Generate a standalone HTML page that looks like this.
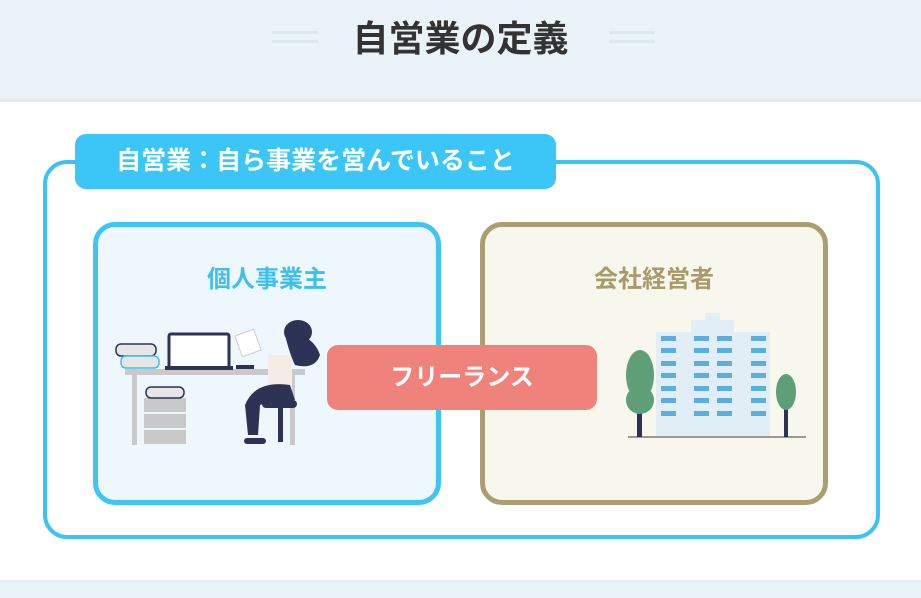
<!DOCTYPE html>
<html><head><meta charset="utf-8"><style>
body{margin:0;width:921px;height:596px;overflow:hidden;background:#fff;font-family:"Liberation Sans","Noto Sans CJK JP",sans-serif;position:relative}
.hd{position:absolute;left:0;top:0;width:921px;height:99px;background:#eaf3f8;border-bottom:3px solid #e1edf5}
.hd h1{position:absolute;top:10px;left:0;width:921px;text-align:center;margin:0;font-size:36px;font-weight:bold;color:#333}
.dash{position:absolute;width:46px;height:3px;background:#dbe8f1;box-shadow:0 9px 0 #dbe8f1}
.ft{position:absolute;left:0;top:580px;width:921px;height:16px;background:#eaf3f8;border-top:2px solid #e1edf5}
.outer{position:absolute;left:43px;top:160px;width:829px;height:371px;border:4px solid #3cc3f5;border-radius:24px}
.tab{position:absolute;left:75px;top:134px;width:481px;height:55px;background:#3cc5f7;border-radius:11px;color:#fff;font-weight:bold;font-size:25px;line-height:55px;text-align:center}
.box{position:absolute;top:222px;width:338px;height:273px;border:5px solid;border-radius:22px}
.ttl{position:absolute;top:32px;width:100%;text-align:center;font-size:24px;font-weight:bold}
.pill{position:absolute;left:327px;top:345px;width:270px;height:65px;background:#ef837c;border-radius:11px;color:#fff;font-size:24px;font-weight:bold;text-align:center;line-height:65px}
</style></head><body>
<div class="hd"><div class="dash" style="left:272px;top:31px"></div><h1>自営業の定義</h1><div class="dash" style="left:609px;top:31px"></div></div>
<div class="outer"></div>
<div class="tab">自営業：自ら事業を営んでいること</div>
<div class="box" style="left:93px;background:#eef7fb;border-color:#3ec5f5"><div class="ttl" style="color:#3ec0ef">個人事業主</div></div>
<div class="box" style="left:480px;background:#f8f7ee;border-color:#ab9f72"><div class="ttl" style="color:#a99a6a">会社経営者</div></div>
<svg style="position:absolute;left:0;top:0" width="921" height="596">
<rect x="125" y="369" width="180" height="6" fill="#c9c9c9"/>
<rect x="132" y="375" width="5" height="70" fill="#c9c9c9"/>
<rect x="290" y="375" width="5" height="70" fill="#c9c9c9"/>
<rect x="144" y="398" width="42" height="14" fill="#c9c9c9"/><rect x="144" y="414" width="42" height="14" fill="#c9c9c9"/><rect x="144" y="430" width="42" height="14" fill="#c9c9c9"/>
<rect x="146" y="387" width="38" height="11" rx="5" fill="#e6e6e6" stroke="#2c3355" stroke-width="1.5"/>
<rect x="116" y="344" width="40" height="12" rx="5" fill="#e6e6e6" stroke="#2c3355" stroke-width="1.5"/>
<rect x="121" y="356" width="38" height="12" rx="5" fill="#e6e6e6" stroke="#3cc3f5" stroke-width="1.5"/>
<rect x="169" y="334" width="60" height="34" rx="2" fill="#fff" stroke="#2c3355" stroke-width="3"/>
<rect x="165" y="366" width="68" height="4" fill="#2c3355"/>
<rect x="236" y="365" width="18" height="4" fill="#2c3355"/>
<rect x="238" y="332" width="20" height="22" fill="#fff" stroke="#ccc" transform="rotate(-20 248 343)"/>
<rect x="268" y="355" width="24" height="38" fill="#f6ece6"/>
<ellipse cx="298" cy="332" rx="14" ry="12" fill="#2c3355"/>
<path d="M285 335 q5 20 10 30 q20 5 25-10 q-5-15-20-20z" fill="#2c3355"/>
<path d="M245 405 q10-25 45-20 l5 15 q-30 3-35 5 l-2 30 h-10z" fill="#2c3355"/>
<rect x="262" y="400" width="35" height="8" rx="4" fill="#2c3355"/>
<rect x="278" y="406" width="5" height="36" fill="#2c3355"/>
<rect x="244" y="438" width="22" height="6" rx="3" fill="#2c3355"/>
<rect x="656" y="332" width="114" height="106" fill="#e1eef6"/>
<rect x="691" y="320" width="43" height="14" fill="#e1eef6"/>
<rect x="705" y="313" width="15" height="8" fill="#e1eef6"/>
<g fill="#5aaee0">
<rect x="661" y="336" width="15" height="5"/><rect x="694" y="336" width="15" height="5"/><rect x="717" y="336" width="15" height="5"/><rect x="751" y="336" width="15" height="5"/>
<rect x="661" y="348" width="15" height="5"/><rect x="694" y="348" width="15" height="5"/><rect x="717" y="348" width="15" height="5"/><rect x="751" y="348" width="15" height="5"/>
<rect x="661" y="361" width="15" height="5"/><rect x="694" y="361" width="15" height="5"/><rect x="717" y="361" width="15" height="5"/><rect x="751" y="361" width="15" height="5"/>
<rect x="661" y="373" width="15" height="5"/><rect x="694" y="373" width="15" height="5"/><rect x="717" y="373" width="15" height="5"/><rect x="751" y="373" width="15" height="5"/>
<rect x="661" y="386" width="15" height="5"/><rect x="694" y="386" width="15" height="5"/><rect x="717" y="386" width="15" height="5"/><rect x="751" y="386" width="15" height="5"/>
<rect x="661" y="398" width="15" height="5"/><rect x="694" y="398" width="15" height="5"/><rect x="717" y="398" width="15" height="5"/><rect x="751" y="398" width="15" height="5"/>
<rect x="661" y="411" width="15" height="5"/><rect x="694" y="411" width="15" height="5"/><rect x="717" y="411" width="15" height="5"/><rect x="751" y="411" width="15" height="5"/>
</g>
<rect x="628" y="436" width="178" height="2" fill="#999"/>
<rect x="637" y="400" width="5" height="37" fill="#2c3355"/>
<ellipse cx="640" cy="375" rx="14" ry="25" fill="#5e9e78"/><ellipse cx="640" cy="400" rx="14" ry="14" fill="#5e9e78"/>
<rect x="784" y="400" width="4" height="37" fill="#2c3355"/>
<ellipse cx="786" cy="392" rx="10" ry="18" fill="#5e9e78"/>
</svg>
<div class="pill">フリーランス</div>
<div class="ft"></div>
</body></html>
